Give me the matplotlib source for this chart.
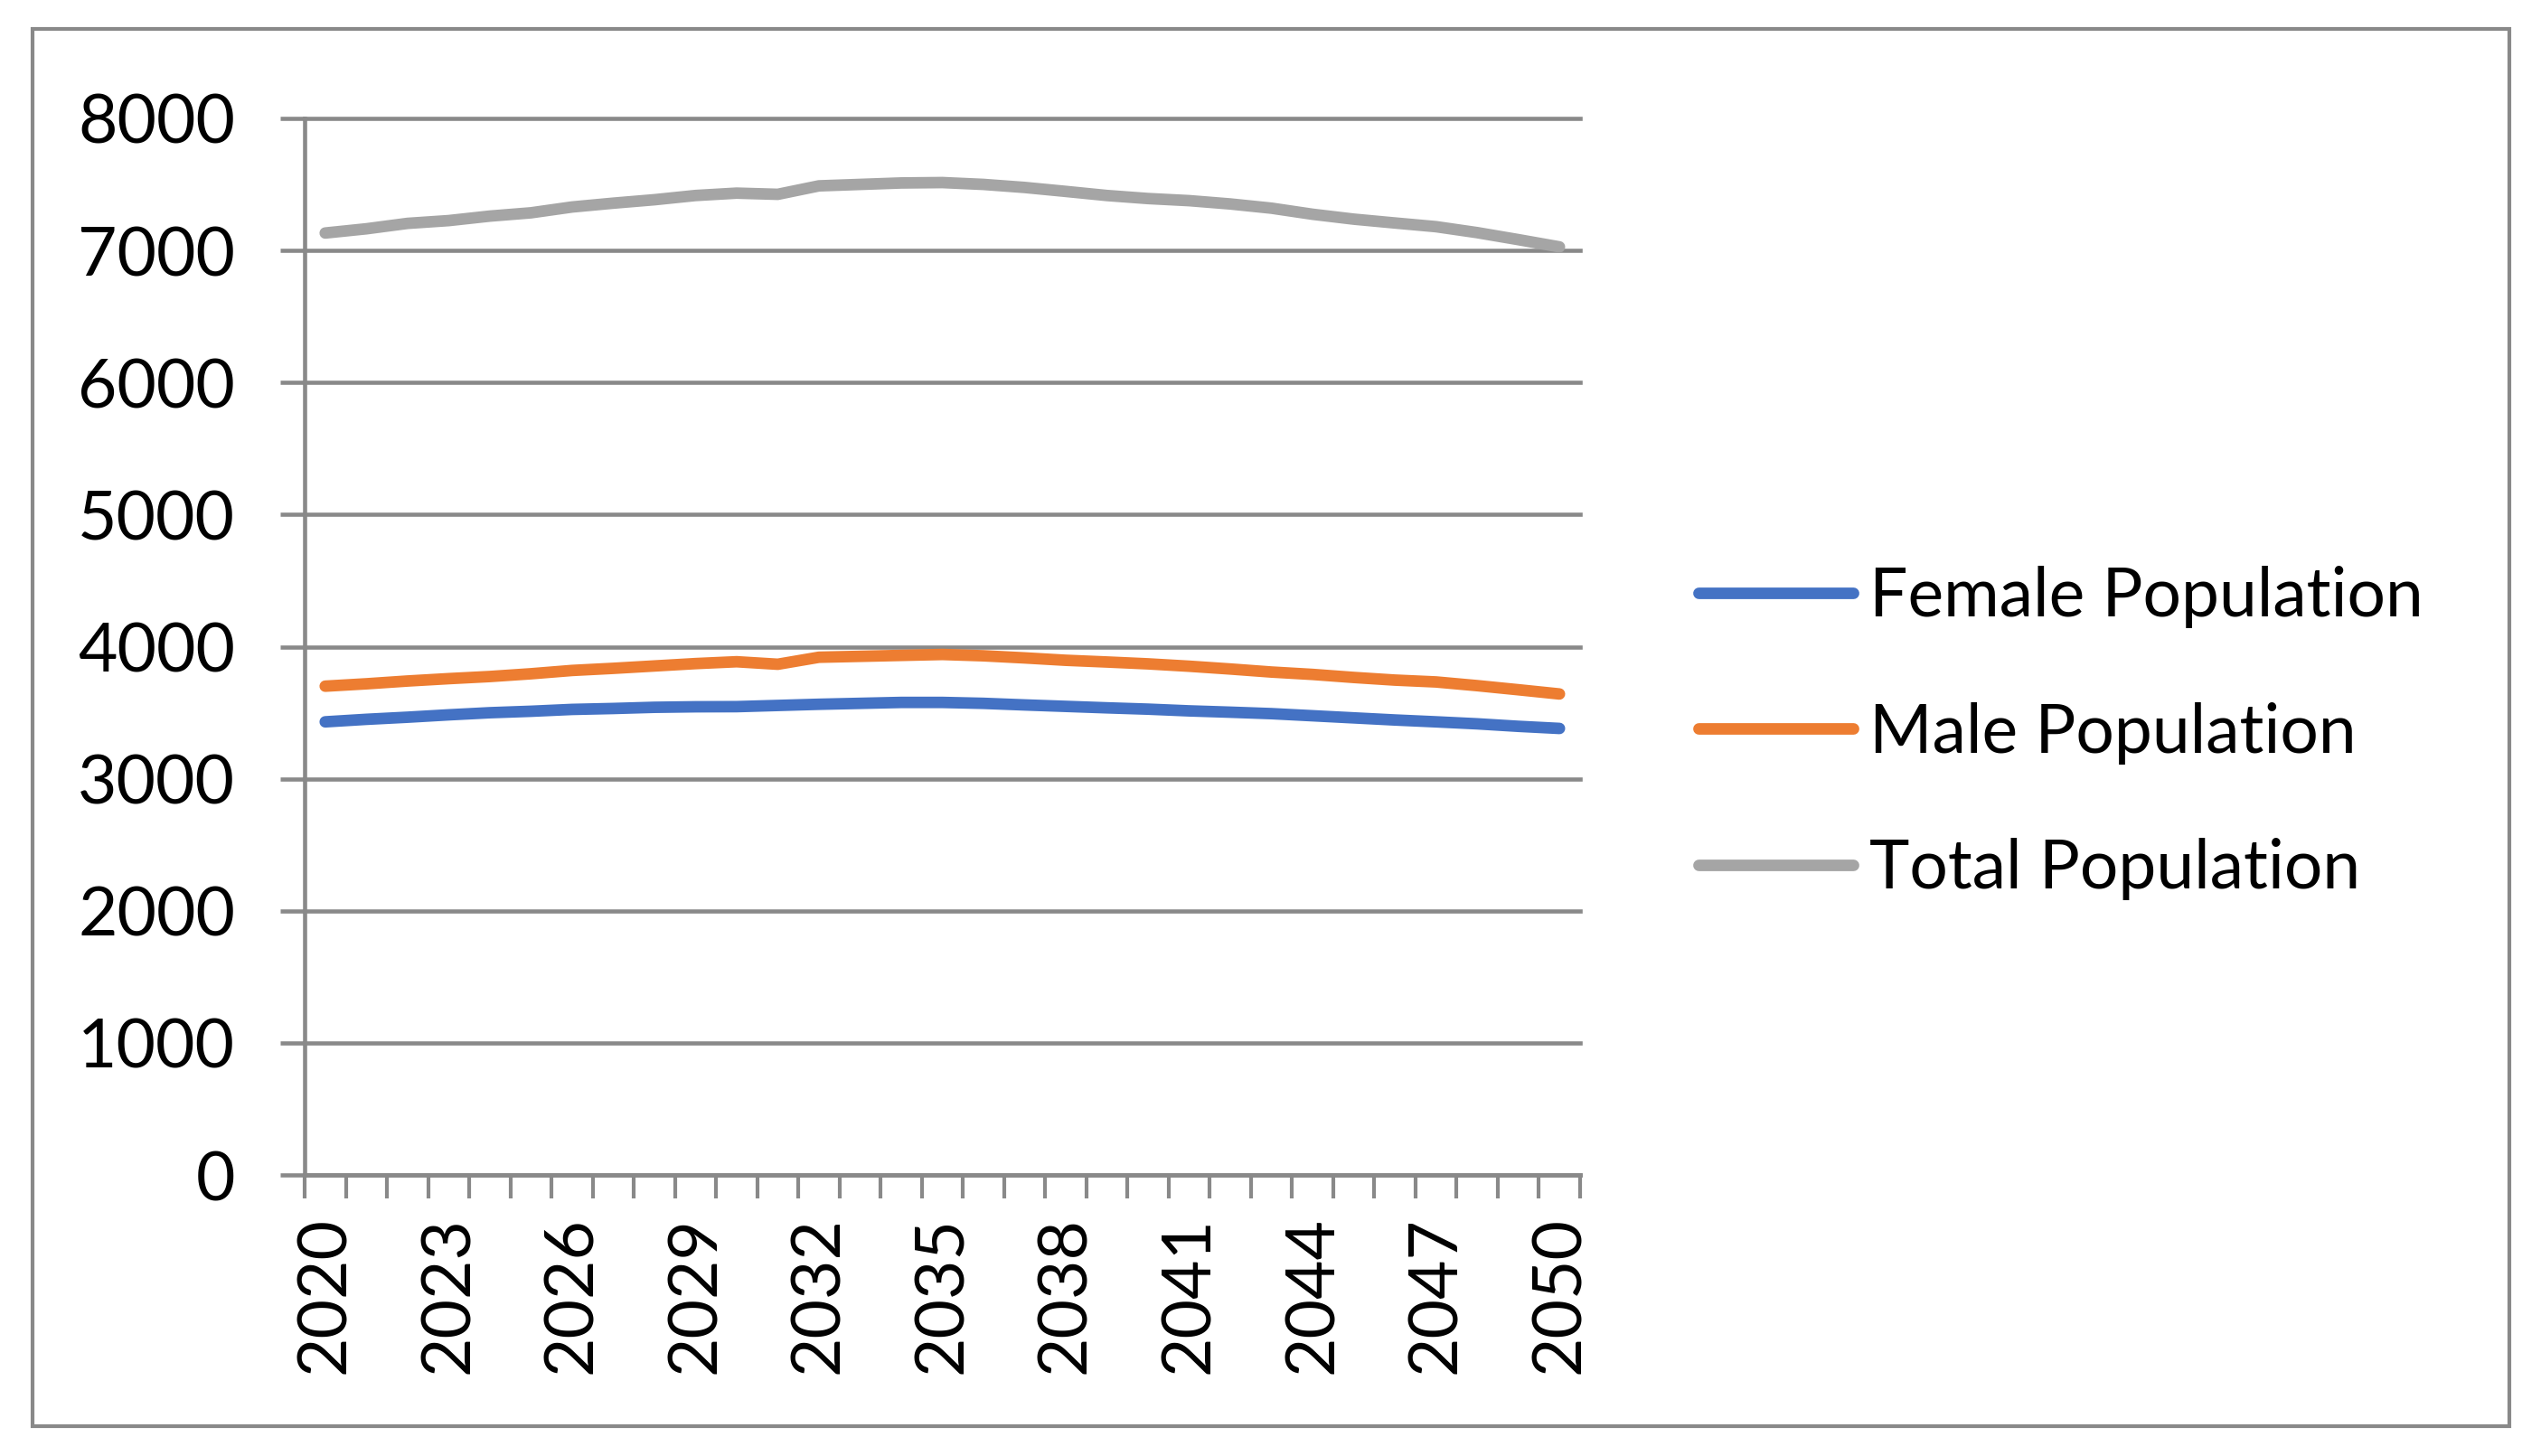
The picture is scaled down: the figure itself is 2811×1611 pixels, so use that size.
import matplotlib
matplotlib.use('Agg')
import numpy as np
import matplotlib.pyplot as plt
from matplotlib.patches import Rectangle

plt.rcParams['font.family'] = ['Lato', 'DejaVu Sans']

years = list(range(2020, 2051))
female = [3431, 3450, 3466, 3484, 3500, 3511, 3525, 3532, 3541, 3545,
          3546, 3555, 3564, 3571, 3578, 3578, 3571, 3559, 3548, 3537,
          3527, 3514, 3504, 3493, 3477, 3461, 3445, 3431, 3416, 3397, 3381]
male = [3701, 3719, 3740, 3758, 3774, 3795, 3820, 3836, 3854, 3872,
        3886, 3867, 3920, 3927, 3934, 3941, 3931, 3915, 3897, 3884,
        3870, 3852, 3831, 3808, 3790, 3767, 3747, 3733, 3705, 3674, 3642]
total = [7132, 7164, 7205, 7226, 7260, 7285, 7329, 7358, 7384, 7416,
         7434, 7425, 7489, 7500, 7511, 7514, 7500, 7477, 7447, 7416,
         7393, 7377, 7352, 7320, 7274, 7237, 7208, 7180, 7135, 7082, 7027]
series_names = ['Female Population', 'Male Population', 'Total Population']
series_colors = ['#4472C4', '#ED7D31', '#A5A5A5']
y_ticks = [0, 1000, 2000, 3000, 4000, 5000, 6000, 7000, 8000]

GRID = '#898989'
FS = 54

fig = plt.figure(figsize=(28.11, 16.11), dpi=100)
fig.patch.set_facecolor('white')
fig.add_artist(Rectangle((0.0128, 0.0205), 0.9747, 0.9597, transform=fig.transFigure,
                         fill=False, edgecolor=GRID, linewidth=3.0))

ax = fig.add_axes([0.1199, 0.1930, 0.5019, 0.7257])
x = np.arange(len(years))
for vals, col, name in zip([female, male, total], series_colors, series_names):
    ax.plot(x, vals, color=col, lw=9.2, solid_capstyle='round',
            solid_joinstyle='round', label=name, zorder=3)

ax.set_xlim(-0.5, len(years) - 0.5)
ax.set_ylim(0, 8000)
ax.set_yticks(y_ticks)
ax.set_yticklabels([str(v) for v in y_ticks], fontsize=FS)
ax.yaxis.grid(True, color=GRID, lw=3.3)
ax.set_axisbelow(True)
for gl in ax.get_ygridlines():
    gl.set_clip_on(False)

major = x[::3]
ax.set_xticks(major)
ax.set_xticklabels([str(years[i]) for i in major], fontsize=FS)
ax.set_xticks(np.arange(-0.5, len(years), 1.0), minor=True)
ax.tick_params(axis='x', which='major', length=0, pad=33, rotation=90)
ax.tick_params(axis='x', which='minor', length=18.7, width=3.0, color=GRID)
ax.tick_params(axis='y', length=19.4, width=3.3, color=GRID, pad=36)

for s in ['top', 'right']:
    ax.spines[s].set_visible(False)
for s in ['left', 'bottom']:
    ax.spines[s].set_color(GRID)
    ax.spines[s].set_linewidth(3.3)

leg = fig.legend(loc='center left', bbox_to_anchor=(0.6684, 0.4965),
                 frameon=False, fontsize=FS, handlelength=2.28, handletextpad=0.24,
                 labelspacing=1.09, borderpad=0, borderaxespad=0)
for h in leg.get_lines():
    h.set_linewidth(9.2)
    h.set_solid_capstyle('round')

fig.savefig('out.png', dpi=100, facecolor='white')
